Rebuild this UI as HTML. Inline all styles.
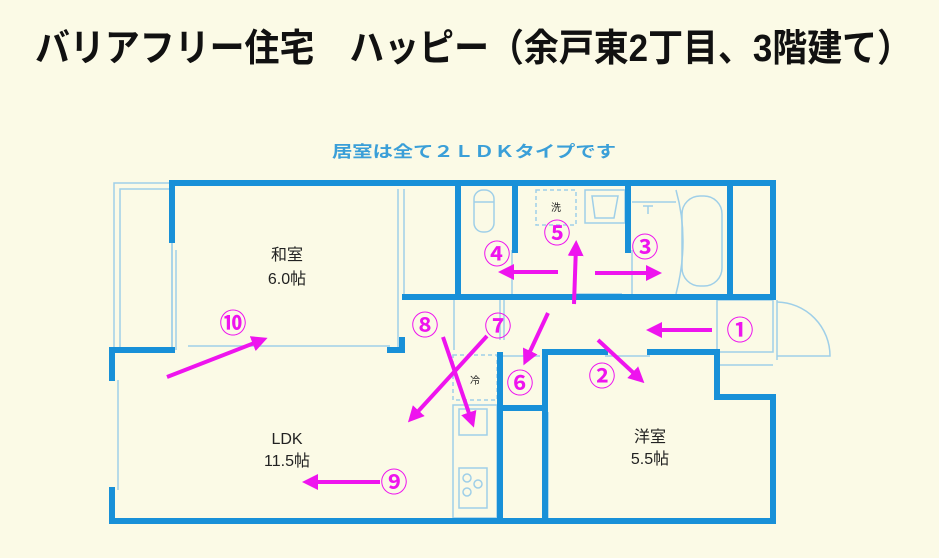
<!DOCTYPE html>
<html><head><meta charset="utf-8"><style>
html,body{margin:0;padding:0;background:#fbfae6;}
svg{display:block}
text{font-family:"Liberation Sans","Noto Sans CJK JP",sans-serif;}
</style></head><body>
<svg width="939" height="558" viewBox="0 0 939 558" xmlns="http://www.w3.org/2000/svg">
<rect width="939" height="558" fill="#fbfae6"/>
<text x="35" y="61" font-size="38" font-weight="bold" fill="#111" textLength="877" lengthAdjust="spacingAndGlyphs">バリアフリー住宅　ハッピー（余戸東2丁目、3階建て）</text>
<text x="474" y="157" font-size="16" font-weight="bold" fill="#3a9fd8" text-anchor="middle" textLength="284" lengthAdjust="spacingAndGlyphs">居室は全て２ＬＤＫタイプです</text>

<g fill="none" stroke="#9fcfe8" stroke-width="1.5">
  <rect x="114" y="183" width="58" height="167"/>
  <rect x="120" y="189" width="52" height="161"/>
  <line x1="398" y1="189" x2="398" y2="350"/>
  <line x1="404" y1="189" x2="404" y2="297"/>
  <line x1="188" y1="346" x2="390" y2="346"/>
  <line x1="118" y1="380" x2="118" y2="490"/>
  <line x1="176" y1="250" x2="176" y2="350"/>
  <rect x="453" y="405" width="44" height="113"/>
  <rect x="459" y="409" width="28" height="26"/>
  <rect x="459" y="468" width="28" height="40"/>
  <circle cx="467" cy="478" r="4"/><circle cx="478" cy="484" r="4"/><circle cx="467" cy="492" r="4"/>
  <rect x="453" y="355" width="44" height="45" stroke-dasharray="4 3"/>
  <rect x="474" y="190" width="20" height="42" rx="9"/>
  <line x1="474" y1="202" x2="494" y2="202"/>
  <line x1="512" y1="250" x2="512" y2="294"/>
  <rect x="536" y="190" width="40" height="35" stroke-dasharray="4 3"/>
  <rect x="585" y="190" width="40" height="33"/>
  <path d="M592 196 L618 196 L614 218 L595 218 Z"/>
  <line x1="575" y1="294" x2="622" y2="294"/>
  <line x1="632" y1="250" x2="632" y2="294"/>
  <rect x="682" y="196" width="40" height="90" rx="18"/>
  <path d="M676 190 Q690 240 676 294"/>
  <line x1="632" y1="202" x2="676" y2="202"/>
  <path d="M643 206 L653 206 M648 206 L648 214"/>
  <rect x="717" y="300" width="56" height="52"/>
  <line x1="717" y1="365" x2="773" y2="365"/>
  <line x1="777" y1="300" x2="777" y2="360"/>
  <path d="M777 302 A54 54 0 0 1 830 356 L777 356"/>
  <line x1="605" y1="356" x2="650" y2="356"/>
  <line x1="503" y1="356" x2="540" y2="356"/>
  <line x1="500" y1="300" x2="500" y2="340"/>
  <line x1="504" y1="300" x2="504" y2="340"/>
  <line x1="548" y1="412" x2="548" y2="518"/>
  <line x1="454" y1="297" x2="454" y2="350"/>
</g>

<g stroke="#1890d8" stroke-width="6" fill="none" stroke-linecap="square">
  <line x1="172" y1="183" x2="773" y2="183"/>
  <line x1="172" y1="183" x2="172" y2="240"/>
  <line x1="112" y1="350" x2="172" y2="350"/>
  <line x1="390" y1="350" x2="402" y2="350"/>
  <line x1="402" y1="340" x2="402" y2="350"/>
  <line x1="112" y1="350" x2="112" y2="378"/>
  <line x1="112" y1="490" x2="112" y2="521"/>
  <line x1="112" y1="521" x2="773" y2="521"/>
  <line x1="773" y1="183" x2="773" y2="297"/>
  <line x1="773" y1="397" x2="773" y2="521"/>
  <line x1="717" y1="352" x2="717" y2="397"/>
  <line x1="717" y1="397" x2="773" y2="397"/>
  <line x1="405" y1="297" x2="773" y2="297"/>
  <line x1="458" y1="183" x2="458" y2="297"/>
  <line x1="515" y1="183" x2="515" y2="250"/>
  <line x1="628" y1="183" x2="628" y2="250"/>
  <line x1="730" y1="183" x2="730" y2="297"/>
  <line x1="500" y1="355" x2="500" y2="521"/>
  <line x1="545" y1="352" x2="545" y2="521"/>
  <line x1="500" y1="408" x2="545" y2="408"/>
  <line x1="545" y1="352" x2="605" y2="352"/>
  <line x1="650" y1="352" x2="717" y2="352"/>
</g>

<g font-size="16" fill="#222" text-anchor="middle">
  <text x="287" y="260">和室</text><text x="287" y="284">6.0帖</text>
  <text x="287" y="444">LDK</text><text x="287" y="466">11.5帖</text>
  <text x="650" y="442">洋室</text><text x="650" y="464">5.5帖</text>
  <text x="475" y="384" font-size="10">冷</text>
  <text x="556" y="211" font-size="10">洗</text>
</g>

<defs><marker id="a" markerWidth="4" markerHeight="4" refX="2.5" refY="2" orient="auto"><path d="M0,0 L4,2 L0,4 Z" fill="#ee14ee"/></marker></defs>
<g stroke="#ee14ee" stroke-width="4" marker-end="url(#a)">
  <line x1="712" y1="330" x2="652" y2="330"/>
  <line x1="598" y1="340" x2="640" y2="379"/>
  <line x1="595" y1="273" x2="656" y2="273"/>
  <line x1="558" y1="272" x2="504" y2="272"/>
  <line x1="574" y1="304" x2="576" y2="246"/>
  <line x1="548" y1="313" x2="526" y2="360"/>
  <line x1="487" y1="336" x2="412" y2="418"/>
  <line x1="443" y1="337" x2="472" y2="422"/>
  <line x1="380" y1="482" x2="308" y2="482"/>
  <line x1="167" y1="377" x2="262" y2="340"/>
</g>
<g font-size="27" font-weight="bold" fill="#ee14ee" text-anchor="middle">
  <text x="740" y="340">①</text><text x="602" y="386">②</text><text x="645" y="257">③</text>
  <text x="497" y="264">④</text><text x="557" y="243">⑤</text><text x="520" y="393">⑥</text>
  <text x="498" y="336">⑦</text><text x="425" y="335">⑧</text><text x="394" y="492">⑨</text>
  <text x="233" y="333">⑩</text>
</g>
</svg>
</body></html>
